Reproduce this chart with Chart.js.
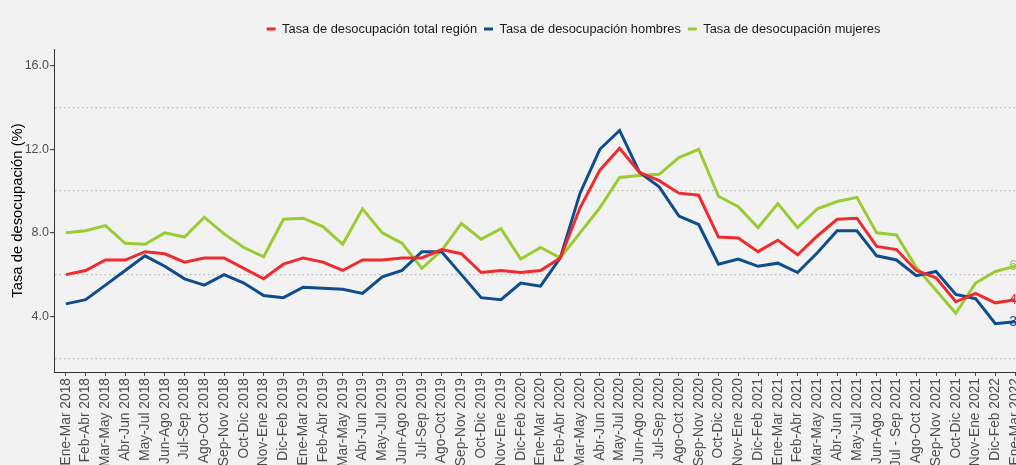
<!DOCTYPE html>
<html>
<head>
<meta charset="utf-8">
<script src="https://cdn.jsdelivr.net/npm/chart.js@4"></script>
<style>
  html, body { margin: 0; padding: 0; background: #f2f2f2; overflow: hidden; }
  #wrap { width: 1016px; height: 465px; overflow: hidden; position: relative; }
  #wrap canvas { position: absolute; left: 0; top: 0; }
</style>
</head>
<body>
<div id="wrap"><canvas id="myChart" width="1147" height="465"></canvas></div>
<script>
// datos (trimestres moviles)

const periodos = ['Ene-Mar 2018', 'Feb-Abr 2018', 'Mar-May 2018', 'Abr-Jun 2018', 'May-Jul 2018', 'Jun-Ago 2018',
    'Jul-Sep 2018', 'Ago-Oct 2018', 'Sep-Nov 2018', 'Oct-Dic 2018', 'Nov-Ene 2018', 'Dic-Feb 2019',
    'Ene-Mar 2019', 'Feb-Abr 2019', 'Mar-May 2019', 'Abr-Jun 2019', 'May-Jul 2019', 'Jun-Ago 2019',
    'Jul-Sep 2019', 'Ago-Oct 2019', 'Sep-Nov 2019', 'Oct-Dic 2019', 'Nov-Ene 2019', 'Dic-Feb 2020',
    'Ene-Mar 2020', 'Feb-Abr 2020', 'Mar-May 2020', 'Abr-Jun 2020', 'May-Jul 2020', 'Jun-Ago 2020',
    'Jul-Sep 2020', 'Ago-Oct 2020', 'Sep-Nov 2020', 'Oct-Dic 2020', 'Nov-Ene 2020', 'Dic-Feb 2021',
    'Ene-Mar 2021', 'Feb-Abr 2021', 'Mar-May 2021', 'Abr-Jun 2021', 'May-Jul 2021', 'Jun-Ago 2021',
    'Jul - Sep 2021', 'Ago-Oct 2021', 'Sep-Nov 2021', 'Oct-Dic 2021', 'Nov-Ene 2021', 'Dic-Feb 2022',
    'Ene-Mar 2022']

const tasaTotal = [6.0, 6.2, 6.7, 6.7, 7.1, 7.0, 6.6, 6.8, 6.8, 6.3, 5.8, 6.5,
    6.8, 6.6, 6.2, 6.7, 6.7, 6.8, 6.8, 7.2, 7.0, 6.1, 6.2, 6.1,
    6.2, 6.8, 9.2, 11.0, 12.05, 10.9, 10.5, 9.9, 9.8, 7.8, 7.75, 7.1,
    7.65, 6.95, 7.85, 8.65, 8.7, 7.35, 7.2, 6.2, 5.85, 4.7, 5.1, 4.65,
    4.8]

const tasaHombres = [4.6, 4.8, 5.5, 6.2, 6.9, 6.4, 5.8, 5.5, 6.0, 5.6, 5.0, 4.9,
    5.4, 5.35, 5.3, 5.1, 5.9, 6.2, 7.1, 7.1, 6.0, 4.9, 4.8, 5.6,
    5.45, 6.8, 9.9, 12.0, 12.9, 10.9, 10.2, 8.8, 8.4, 6.5, 6.75, 6.4,
    6.55, 6.1, 7.05, 8.1, 8.1, 6.9, 6.7, 5.95, 6.15, 5.05, 4.85, 3.65,
    3.75]

const tasaMujeres = [8.0, 8.1, 8.35, 7.5, 7.45, 8.0, 7.8, 8.75, 7.95, 7.3, 6.85, 8.65,
    8.7, 8.3, 7.45, 9.15, 8.0, 7.5, 6.3, 7.15, 8.45, 7.7, 8.2, 6.75,
    7.3, 6.8, 8.0, 9.2, 10.65, 10.75, 10.8, 11.6, 12.0, 9.75, 9.25, 8.25,
    9.4, 8.25, 9.15, 9.5, 9.7, 8.0, 7.9, 6.35, 5.25, 4.15, 5.6, 6.15,
    6.4]

const yTicks = [4, 8, 12, 16]
const yGrid = [2, 6, 10, 14]

const rojo = '#ee2b2e', azul = '#0f4c8c', verde = '#99cc33'

Chart.defaults.font.family = '"Liberation Sans", Arial, sans-serif'

// etiqueta con el ultimo valor de cada serie

const etiquetasFinales = {
    id: 'etiquetasFinales',
    afterDatasetsDraw(chart) {
        const ctx = chart.ctx
        chart.data.datasets.forEach((ds, i) => {
            const pts = chart.getDatasetMeta(i).data
            const last = pts[pts.length - 1]
            const v = ds.data[ds.data.length - 1].y
            ctx.save()
            ctx.font = '14px "Liberation Sans", Arial, sans-serif'
            ctx.fillStyle = ds.borderColor
            ctx.textAlign = 'left'
            ctx.textBaseline = 'middle'
            ctx.fillText(v.toFixed(1), last.x - 6, last.y)
            ctx.restore()
        })
    }
}

// un poco de aire debajo de la leyenda

const espacioLeyenda = {
    id: 'espacioLeyenda',
    beforeLayout(chart) {
        const legend = chart.legend
        if (legend && !legend._conEspacio) {
            const fit = legend.fit
            legend.fit = function () {
                fit.call(this)
                this.height += 3.5
            }
            legend._conEspacio = true
        }
    }
}

function serie(label, values, color) {
    return {
        label: label,
        data: values.map((v, i) => ({ x: i, y: v })),
        borderColor: color,
        backgroundColor: color,
        borderWidth: 3,
        pointRadius: 0,
        tension: 0
    }
}

const ctx = document.getElementById('myChart').getContext('2d')
const myChart = new Chart(ctx, {
    type: 'line',
    data: {
        datasets: [
            serie('Tasa de desocupación total región', tasaTotal, rojo),
            serie('Tasa de desocupación hombres', tasaHombres, azul),
            serie('Tasa de desocupación mujeres', tasaMujeres, verde)
        ]
    },
    plugins: [etiquetasFinales, espacioLeyenda],
    options: {
        responsive: false,
        animation: false,
        devicePixelRatio: 1,
        layout: { padding: { top: 15.1, left: 0, right: 0, bottom: 0 } },
        plugins: {
            tooltip: { enabled: false },
            legend: {
                position: 'top',
                labels: {
                    boxWidth: 9,
                    boxHeight: 3,
                    padding: 7,
                    color: '#1a1a1a',
                    font: { size: 12.85 },
                    generateLabels: chart => Chart.defaults.plugins.legend.labels.generateLabels(chart)
                        .map(l => ({ ...l, lineWidth: 0, fillStyle: l.strokeStyle }))
                }
            }
        },
        scales: {
            x: {
                type: 'linear',
                min: -0.6,
                max: periodos.length - 1 + 0.6,
                afterBuildTicks: s => { s.ticks = periodos.map((_, i) => ({ value: i })) },
                afterFit: s => { s.height = 93; s.paddingLeft = 0; s.paddingRight = 0 },
                grid: { drawOnChartArea: false, tickLength: 4, tickColor: '#4d4d4d' },
                border: { color: '#333333', width: 1 },
                ticks: {
                    autoSkip: false,
                    minRotation: 90,
                    maxRotation: 90,
                    padding: 2,
                    color: '#4d4d4d',
                    font: { size: 13.8 },
                    callback: v => periodos[v]
                }
            },
            y: {
                min: 1.34,
                max: 16.8,
                afterBuildTicks: s => {
                    s.ticks = yGrid.concat(yTicks).sort((a, b) => a - b).map(v => ({ value: v }))
                },
                afterFit: s => { s.width = 54; s.paddingTop = 49; s.paddingBottom = 0 },
                grid: {
                    lineWidth: 1.2,
                    tickLength: 4,
                    color: c => (c.tick && yGrid.includes(c.tick.value)) ? '#b8b8b8' : 'rgba(0,0,0,0)',
                    tickColor: c => (c.tick && yTicks.includes(c.tick.value)) ? '#4d4d4d' : 'rgba(0,0,0,0)'
                },
                border: { color: '#333333', width: 1, dash: [1.5, 3] },
                ticks: {
                    padding: 1,
                    color: '#4d4d4d',
                    font: { size: 12.5 },
                    callback: v => yTicks.includes(v) ? v.toFixed(1) : ''
                },
                title: {
                    display: true,
                    text: 'Tasa de desocupación (%)',
                    color: '#000000',
                    font: { size: 14.8 },
                    padding: { top: 9, bottom: 0 }
                }
            },
            y2: {
                position: 'right',
                afterFit: s => { s.width = 120 },
                grid: { display: false },
                border: { display: false },
                ticks: { display: false }
            }
        }
    }
})
</script>
</body>
</html>
